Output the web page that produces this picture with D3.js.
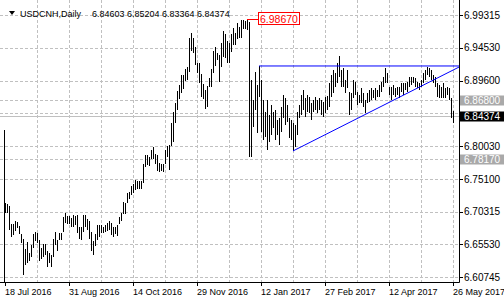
<!DOCTYPE html>
<html>
<head>
<meta charset="utf-8">
<script src="https://cdn.jsdelivr.net/npm/d3@7/dist/d3.min.js"></script>
<style>
  body { margin: 0; background: #fff; }
  svg text { font-family: "Liberation Sans", Arial, sans-serif; }
</style>
</head>
<body>
<div id="chart"></div>
<script>
// USDCNH daily bars, 18 Jul 2016 .. 26 May 2017
var symbol = "USDCNH,Daily";
var lastBar = ["6.84603", "6.85204", "6.83364", "6.84374"];

var highs = [
  6.7165, 6.7150, 6.7121, 6.6856, 6.6856, 6.6900, 6.6886, 6.6827, 6.6709, 6.6636,
  6.6489, 6.6591, 6.6430, 6.6547, 6.6709, 6.6738, 6.6724, 6.6621, 6.6503, 6.6562,
  6.6562, 6.6459, 6.6430, 6.6400, 6.6636, 6.6738, 6.6621, 6.6724, 6.6724, 6.6959,
  6.7018, 6.6974, 6.6974, 6.6944, 6.6989, 6.6974, 6.6989, 6.6812, 6.6812, 6.6989,
  6.6989, 6.6930, 6.6900, 6.6738, 6.6606, 6.6709, 6.6841, 6.6841, 6.6841, 6.6812,
  6.6841, 6.6871, 6.6900, 6.6871, 6.6812, 6.6812, 6.6841, 6.6959, 6.7018, 6.7180,
  6.7165, 6.7312, 6.7327, 6.7415, 6.7445, 6.7503, 6.7489, 6.7489, 6.7489, 6.7739,
  6.7871, 6.7871, 6.7842, 6.7945, 6.7989, 6.7886, 6.7871, 6.7754, 6.7739, 6.7739,
  6.7945, 6.8004, 6.8018, 6.8342, 6.8504, 6.8636, 6.8813, 6.8901, 6.9048, 6.9048,
  6.9137, 6.9166, 6.9593, 6.9667, 6.9593, 6.9460, 6.9225, 6.9225, 6.9063, 6.8916,
  6.8827, 6.8886, 6.9004, 6.9137, 6.9402, 6.9460, 6.9372, 6.9343, 6.9519, 6.9696,
  6.9652, 6.9549, 6.9519, 6.9652, 6.9740, 6.9667, 6.9814, 6.9755, 6.9855, 6.9860,
  6.9850, 6.9867, 6.9830, 6.8975, 6.8680, 6.9092, 6.8901, 6.9181, 6.8975, 6.8680,
  6.8504, 6.8680, 6.8460, 6.8607, 6.8504, 6.8533, 6.8386, 6.8415, 6.8577, 6.8754,
  6.8710, 6.8607, 6.8415, 6.8386, 6.8342, 6.8313, 6.8504, 6.8607, 6.8754, 6.8827,
  6.8710, 6.8754, 6.8724, 6.8636, 6.8680, 6.8724, 6.8680, 6.8710, 6.8680, 6.8651,
  6.8724, 6.8739, 6.8931, 6.9048, 6.9122, 6.9078, 6.9225, 6.9328, 6.9122, 6.9151,
  6.8975, 6.9122, 6.8798, 6.8783, 6.8975, 6.8945, 6.8798, 6.8754, 6.8857, 6.8783,
  6.8680, 6.8783, 6.8827, 6.8857, 6.8827, 6.8857, 6.8827, 6.8901, 6.8945, 6.9019,
  6.9151, 6.9078, 6.8872, 6.8872, 6.8901, 6.8857, 6.8872, 6.8872, 6.8931, 6.8931,
  6.8931, 6.8945, 6.9019, 6.9019, 6.9019, 6.9004, 6.8945, 6.8931, 6.8975, 6.9078,
  6.9122, 6.9166, 6.9151, 6.9122, 6.9048, 6.9019, 6.8931, 6.8901, 6.8872, 6.8931,
  6.8857, 6.8872, 6.8857, 6.8710, 6.8520
];

var lows = [
  6.7018, 6.7018, 6.6768, 6.6665, 6.6694, 6.6753, 6.6797, 6.6709, 6.6577, 6.6106,
  6.6253, 6.6283, 6.6312, 6.6371, 6.6503, 6.6606, 6.6577, 6.6312, 6.6341, 6.6371,
  6.6400, 6.6224, 6.6283, 6.6224, 6.6371, 6.6547, 6.6459, 6.6621, 6.6621, 6.6738,
  6.6871, 6.6856, 6.6856, 6.6812, 6.6812, 6.6841, 6.6724, 6.6636, 6.6621, 6.6738,
  6.6812, 6.6768, 6.6636, 6.6459, 6.6400, 6.6533, 6.6621, 6.6665, 6.6724, 6.6724,
  6.6738, 6.6753, 6.6768, 6.6694, 6.6665, 6.6709, 6.6680, 6.6856, 6.6900, 6.7003,
  6.7003, 6.7165, 6.7224, 6.7283, 6.7312, 6.7356, 6.7371, 6.7371, 6.7371, 6.7459,
  6.7695, 6.7724, 6.7709, 6.7812, 6.7812, 6.7739, 6.7636, 6.7621, 6.7636, 6.7621,
  6.7739, 6.7842, 6.7650, 6.8004, 6.8062, 6.8342, 6.8533, 6.8695, 6.8783, 6.8842,
  6.8960, 6.8975, 6.9092, 6.9402, 6.9372, 6.9195, 6.9078, 6.8931, 6.8724, 6.8695,
  6.8548, 6.8577, 6.8872, 6.8872, 6.9078, 6.9181, 6.9269, 6.8945, 6.9166, 6.9313,
  6.9298, 6.9225, 6.9225, 6.9387, 6.9490, 6.9490, 6.9578, 6.9593, 6.9593, 6.9725,
  6.9725, 6.9711, 6.7842, 6.7842, 6.8283, 6.8533, 6.8195, 6.8724, 6.8210, 6.8092,
  6.8136, 6.7945, 6.8062, 6.8165, 6.8268, 6.8092, 6.8165, 6.8018, 6.8210, 6.8415,
  6.8313, 6.8357, 6.8121, 6.8092, 6.7930, 6.7989, 6.8165, 6.8415, 6.8460, 6.8533,
  6.8430, 6.8504, 6.8489, 6.8386, 6.8504, 6.8533, 6.8489, 6.8533, 6.8460, 6.8430,
  6.8489, 6.8533, 6.8577, 6.8724, 6.8783, 6.8872, 6.8931, 6.9019, 6.8872, 6.8872,
  6.8783, 6.8857, 6.8460, 6.8533, 6.8710, 6.8754, 6.8607, 6.8636, 6.8636, 6.8577,
  6.8489, 6.8636, 6.8651, 6.8680, 6.8710, 6.8680, 6.8724, 6.8724, 6.8798, 6.8872,
  6.8931, 6.8931, 6.8754, 6.8680, 6.8754, 6.8724, 6.8754, 6.8710, 6.8798, 6.8754,
  6.8827, 6.8798, 6.8872, 6.8901, 6.8931, 6.8872, 6.8857, 6.8827, 6.8872, 6.8931,
  6.8975, 6.9048, 6.9019, 6.8975, 6.8931, 6.8872, 6.8724, 6.8710, 6.8710, 6.8710,
  6.8710, 6.8754, 6.8680, 6.8415, 6.8336
];

var dateLabels = ["18 Jul 2016", "31 Aug 2016", "14 Oct 2016", "29 Nov 2016",
                  "12 Jan 2017", "27 Feb 2017", "12 Apr 2017", "26 May 2017"];
var dateBars = [0, 32, 64, 96, 128, 160, 192, 224];
var priceTicks = [6.99315, 6.94530, 6.89600, 6.84815, 6.80030, 6.75100, 6.70315, 6.65530, 6.60745];

// chart objects
var hLevels = [6.86800, 6.78170];          // dashed horizontal lines
var bidPrice = 6.84374;
var topPrice = 6.98670, topBar = 121;
var resistance = [[127, 6.9181], [227, 6.9181]];
var support = [[144, 6.7930], [227, 6.9165]];

var W = 504, H = 300;
var right = 459, bottom = 282;

var svg = d3.select("#chart").append("svg")
    .attr("width", W)
    .attr("height", H)
    .style("display", "block");

svg.append("rect").attr("width", W).attr("height", H).attr("fill", "#fff");

var x = d3.scaleLinear().domain([0, 227]).range([5, right]);
var y = d3.scaleLinear().domain([6.60745, 6.99315]).range([277, 15]);
var py = function (p) { return Math.round(y(p)) + 0.5; };

// grid
var grid = svg.append("g")
    .attr("stroke", "#c0c0c0")
    .attr("stroke-dasharray", "3,2")
    .attr("shape-rendering", "crispEdges");

grid.selectAll(".gh").data(priceTicks).enter().append("line")
    .attr("x1", 0).attr("x2", right)
    .attr("y1", py).attr("y2", py);

grid.selectAll(".gv").data(d3.range(16, 227, 16)).enter().append("line")
    .attr("x1", function (d) { return x(d) + 0.5; })
    .attr("x2", function (d) { return x(d) + 0.5; })
    .attr("y1", 0).attr("y2", bottom);

grid.selectAll(".gl").data(hLevels).enter().append("line")
    .attr("x1", 0).attr("x2", right)
    .attr("y1", py).attr("y2", py);

// bid line
svg.append("line")
    .attr("x1", 0).attr("x2", right)
    .attr("y1", py(bidPrice)).attr("y2", py(bidPrice))
    .attr("stroke", "#c0c0c0");

// left edge line
svg.append("line")
    .attr("x1", 4.5).attr("x2", 4.5)
    .attr("y1", 130).attr("y2", bottom)
    .attr("stroke", "#000");

// bars
svg.append("g").selectAll("rect").data(highs).enter().append("rect")
    .attr("x", function (d, i) { return x(i); })
    .attr("y", function (d) { return Math.round(y(d)); })
    .attr("width", 1)
    .attr("height", function (d, i) { return Math.max(1, Math.round(y(lows[i])) - Math.round(y(d))); })
    .attr("fill", "#000")
    .attr("shape-rendering", "crispEdges");

// trend lines
[resistance, support].forEach(function (ln) {
    svg.append("line")
        .attr("x1", x(ln[0][0])).attr("y1", y(ln[0][1]))
        .attr("x2", x(ln[1][0])).attr("y2", y(ln[1][1]))
        .attr("stroke", "#0000ff").attr("stroke-width", 1);
});

// top price marker
svg.append("line")
    .attr("x1", x(topBar)).attr("x2", 259)
    .attr("y1", py(topPrice)).attr("y2", py(topPrice))
    .attr("stroke", "#ff0000").attr("shape-rendering", "crispEdges");
svg.append("rect")
    .attr("x", 258.5).attr("y", Math.round(y(topPrice)) - 6.5)
    .attr("width", 41).attr("height", 12)
    .attr("fill", "#fff").attr("stroke", "#ff0000");
svg.append("text")
    .attr("x", 260).attr("y", Math.round(y(topPrice)) + 4)
    .attr("font-size", "10.5px").attr("fill", "#ff0000")
    .text(topPrice.toFixed(5));

// axes frame
svg.append("line").attr("x1", right + 0.5).attr("x2", right + 0.5)
    .attr("y1", 0).attr("y2", bottom + 0.5).attr("stroke", "#000");
svg.append("line").attr("x1", 0).attr("x2", right + 0.5)
    .attr("y1", bottom + 0.5).attr("y2", bottom + 0.5).attr("stroke", "#000");

// price axis (the tick under the bid tag stays unlabelled, it is covered there)
var shown = priceTicks.filter(function (d) { return Math.abs(y(d) - y(bidPrice)) > 8; });
var pa = svg.append("g");
pa.selectAll("line").data(priceTicks).enter().append("line")
    .attr("x1", right).attr("x2", right + 4)
    .attr("y1", py).attr("y2", py)
    .attr("stroke", "#000");
pa.selectAll("text").data(shown).enter().append("text")
    .attr("x", 464).attr("y", function (d) { return y(d) + 3.5; })
    .attr("font-size", "10px").attr("fill", "#000")
    .text(function (d) { return d.toFixed(5); });

// level labels
function priceTag(p, fill) {
    var yy = Math.round(y(p));
    svg.append("rect").attr("x", 460).attr("y", yy - 4.5)
        .attr("width", 44).attr("height", 10).attr("fill", fill);
    svg.append("text").attr("x", 464).attr("y", yy + 4)
        .attr("font-size", "10px").attr("fill", "#fff")
        .text(p.toFixed(5));
}
priceTag(hLevels[0], "#a9a9a9");
priceTag(hLevels[1], "#a9a9a9");
priceTag(bidPrice, "#000");

// time axis
var ta = svg.append("g");
ta.selectAll("line").data(dateBars).enter().append("line")
    .attr("x1", function (d) { return x(d) + 0.5; })
    .attr("x2", function (d) { return x(d) + 0.5; })
    .attr("y1", bottom).attr("y2", bottom + 4)
    .attr("stroke", "#000");
ta.selectAll("text").data(dateLabels).enter().append("text")
    .attr("x", function (d, i) { return x(dateBars[i]); })
    .attr("y", 294.5)
    .attr("font-size", "9px").attr("fill", "#000")
    .text(function (d) { return d; });

// title
svg.append("path").attr("d", "M9,11 L15,11 L12,15 Z").attr("fill", "#000");
svg.append("text").attr("x", 20).attr("y", 16.5)
    .attr("font-size", "9px").attr("fill", "#000")
    .text(symbol);
svg.append("text").attr("x", 92).attr("y", 16.5)
    .attr("font-size", "9px").attr("fill", "#000")
    .attr("xml:space", "preserve")
    .text(lastBar.join(" "));
</script>
</body>
</html>
